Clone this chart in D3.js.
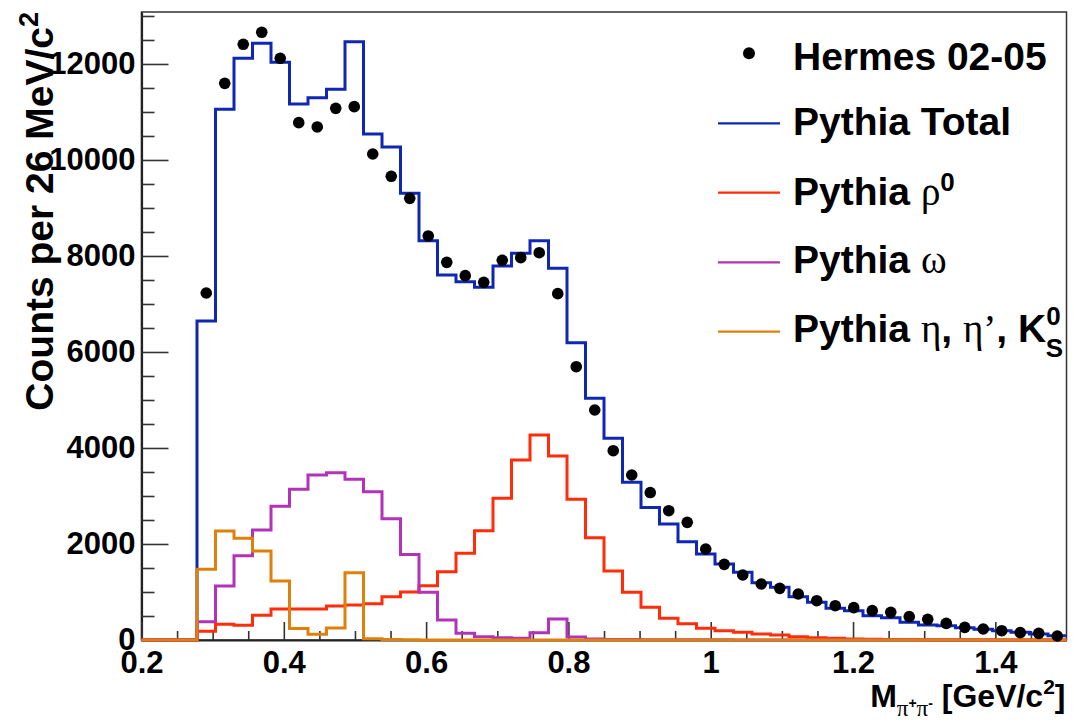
<!DOCTYPE html>
<html>
<head>
<meta charset="utf-8">
<script src="https://cdn.jsdelivr.net/npm/d3@7"></script>
<style>
  body { margin: 0; background: #fff; }
  svg { display: block; }
</style>
</head>
<body>
<svg id="chart" width="1074" height="724"></svg>
<script>
// Invariant mass histogram binning: 50 bins of 26 MeV from 0.2 to 1.5 GeV
const binLow = 0.2;
const binWidth = 0.026;
const binCount = 50;

// Measured counts (null where no point is drawn)
const hermes = [null, null, null, 7229, 11597, 12410, 12660, 12118, 10778, 10688,
  11076, 11111, 10125, 9660, 9201, 8417, 7868, 7590, 7451, 7910,
  7965, 8069, 7215, 5694, 4792, 3944, 3437, 3072, 2694, 2451,
  1896, 1576, 1354, 1167, 1076, 958, 819, 715, 674, 611,
  576, 486, 431, 347, 264, 229, 194, 153, 139, 83];

// Monte Carlo totals and components
const pythiaTotal = [0, 0, 0, 6646, 11056, 12118, 12431, 12035, 11167, 11299,
  11472, 12465, 10542, 10271, 9306, 8319, 7604, 7465, 7347, 7792,
  8056, 8319, 7743, 6194, 5035, 4201, 3285, 2760, 2417, 2049,
  1792, 1583, 1410, 1194, 1097, 903, 785, 660, 611, 507,
  465, 368, 312, 299, 257, 222, 194, 160, 125, 90];

const pythiaRho = [0, 0, 0, 180, 330, 305, 515, 645, 645, 645,
  708, 729, 757, 903, 1000, 1132, 1424, 1806, 2278, 2951,
  3750, 4271, 3833, 2931, 2132, 1437, 993, 681, 451, 340,
  243, 194, 160, 125, 104, 69, 49, 35, 20, 15,
  10, 8, 5, 4, 3, 3, 2, 2, 1, 1];

const pythiaOmega = [0, 0, 0, 382, 1125, 1757, 2292, 2785, 3139, 3437,
  3486, 3347, 3090, 2525, 1780, 993, 417, 139, 69, 49,
  35, 153, 438, 60, 22, 12, 8, 6, 5, 4,
  3, 3, 2, 2, 2, 1, 1, 1, 1, 0,
  0, 0, 0, 0, 0, 0, 0, 0, 0, 0];

const pythiaEta = [0, 0, 0, 1472, 2271, 2118, 1854, 1229, 240, 120,
  250, 1403, 28, 12, 4, 2, 1, 0, 0, 0,
  0, 0, 0, 0, 0, 0, 0, 0, 0, 0,
  0, 0, 0, 0, 0, 0, 0, 0, 0, 0,
  0, 0, 0, 0, 0, 0, 0, 0, 0, 0];

// Axis ticks
const xTickValues = [0.2, 0.4, 0.6, 0.8, 1.0, 1.2, 1.4];
const xTickLabels = ["0.2", "0.4", "0.6", "0.8", "1", "1.2", "1.4"];
const xMinorValues = [0.25, 0.3, 0.35, 0.45, 0.5, 0.55, 0.65, 0.7, 0.75, 0.85, 0.9, 0.95,
  1.05, 1.1, 1.15, 1.25, 1.3, 1.35, 1.45];
const yTickValues = [0, 2000, 4000, 6000, 8000, 10000, 12000];
const yTickLabels = ["0", "2000", "4000", "6000", "8000", "10000", "12000"];
const yMinorValues = [500, 1000, 1500, 2500, 3000, 3500, 4500, 5000, 5500, 6500, 7000, 7500,
  8500, 9000, 9500, 10500, 11000, 11500, 12500, 13000];

const colors = {
  total: "#0f27b3",
  rho: "#ff2d0a",
  omega: "#b232b8",
  eta: "#de800a",
  data: "#000000"
};

(function draw() {
  const svg = d3.select("#chart");
  const sans = "'Liberation Sans', Arial, Helvetica, sans-serif";
  const serif = "'Liberation Serif', 'Times New Roman', serif";

  const plotLeft = 141.5, plotRight = 1066.5, plotTop = 12, plotBottom = 640;
  const x = d3.scaleLinear().domain([0.2, 1.5]).range([plotLeft, plotRight]);
  const y = d3.scaleLinear().domain([0, 13083]).range([plotBottom, plotTop]);

  const edges = d3.range(binCount).map(i => binLow + i * binWidth);
  const centers = edges.map(e => e + binWidth / 2);

  // Frame
  svg.append("rect")
    .attr("x", plotLeft).attr("y", plotTop)
    .attr("width", plotRight - plotLeft).attr("height", plotBottom - plotTop)
    .attr("fill", "none").attr("stroke", "#333").attr("stroke-width", 1.5);

  // Y axis: major ticks with labels, minor ticks
  svg.append("g").attr("transform", `translate(${plotLeft},0)`)
    .call(d3.axisLeft(y).tickValues(yTickValues).tickSizeInner(-27).tickSizeOuter(0)
      .tickPadding(6).tickFormat((d, i) => yTickLabels[i]));
  svg.append("g").attr("transform", `translate(${plotLeft},0)`)
    .call(d3.axisLeft(y).tickValues(yMinorValues).tickSizeInner(-13).tickSizeOuter(0)
      .tickFormat(""))
    .select(".domain").remove();

  // X axis
  svg.append("g").attr("transform", `translate(0,${plotBottom})`)
    .call(d3.axisBottom(x).tickValues(xTickValues).tickSizeInner(-18).tickSizeOuter(0)
      .tickPadding(11).tickFormat((d, i) => xTickLabels[i]));
  svg.append("g").attr("transform", `translate(0,${plotBottom})`)
    .call(d3.axisBottom(x).tickValues(xMinorValues).tickSizeInner(-9).tickSizeOuter(0)
      .tickFormat(""))
    .select(".domain").remove();

  svg.selectAll(".tick line").attr("stroke", "#333").attr("stroke-width", 1.6);
  svg.selectAll(".domain").attr("stroke", "#222").attr("stroke-width", 2.2);
  svg.selectAll(".tick text")
    .attr("font-family", sans).attr("font-weight", "bold")
    .attr("font-size", 31).attr("fill", "#000");

  // Histogram outlines
  const stepLine = d3.line()
    .x(d => x(d[0])).y(d => y(d[1]))
    .curve(d3.curveStepAfter);

  function histPoints(vals) {
    const pts = vals.map((v, i) => [edges[i], v]);
    pts.push([binLow + binCount * binWidth, vals[vals.length - 1]]);
    return pts;
  }

  const series = [
    { vals: pythiaTotal, color: colors.total },
    { vals: pythiaRho, color: colors.rho },
    { vals: pythiaOmega, color: colors.omega },
    { vals: pythiaEta, color: colors.eta }
  ];

  svg.append("g").selectAll("path").data(series).join("path")
    .attr("d", s => stepLine(histPoints(s.vals)))
    .attr("fill", "none")
    .attr("stroke", s => s.color)
    .attr("stroke-width", 3)
    .attr("stroke-linejoin", "miter");

  // Data points
  svg.append("g").selectAll("circle")
    .data(hermes.map((v, i) => ({ c: centers[i], v })).filter(d => d.v !== null))
    .join("circle")
    .attr("cx", d => x(d.c)).attr("cy", d => y(d.v))
    .attr("r", 5.8).attr("fill", colors.data);

  // Axis titles
  const yTitle = svg.append("text")
    .attr("transform", `translate(53,${plotTop}) rotate(-90)`)
    .attr("text-anchor", "end")
    .attr("font-family", sans).attr("font-weight", "bold").attr("font-size", 39);
  yTitle.append("tspan").text("Counts per 26 MeV/c");
  yTitle.append("tspan").attr("font-size", 27).attr("dy", -15).text("2");

  const xTitle = svg.append("text")
    .attr("x", plotRight - 1).attr("y", 707)
    .attr("text-anchor", "end")
    .attr("font-family", sans).attr("font-weight", "bold").attr("font-size", 32);
  xTitle.append("tspan").text("M");
  xTitle.append("tspan").attr("font-family", serif).attr("font-weight", "normal")
    .attr("font-size", 23).attr("dy", 9).text("π");
  xTitle.append("tspan").attr("font-size", 14).attr("dy", -8).text("+");
  xTitle.append("tspan").attr("font-family", serif).attr("font-weight", "normal")
    .attr("font-size", 23).attr("dy", 8).text("π");
  xTitle.append("tspan").attr("font-size", 14).attr("dy", -8).text("-");
  xTitle.append("tspan").attr("dy", -1).text(" [GeV/c");
  xTitle.append("tspan").attr("font-size", 21).attr("dy", -13).text("2");
  xTitle.append("tspan").attr("dy", 13).text("]");

  // Legend
  const legendX = 793;
  const legend = svg.append("g")
    .attr("font-family", sans).attr("font-weight", "bold").attr("font-size", 39);

  legend.append("circle").attr("cx", 749).attr("cy", 53.3).attr("r", 6).attr("fill", colors.data);
  legend.append("text").attr("x", legendX).attr("y", 69.5).text("Hermes 02-05");

  const lineEntries = [
    { color: colors.total, lineY: 123.3, base: 135 },
    { color: colors.rho, lineY: 192.7, base: 205 },
    { color: colors.omega, lineY: 262.3, base: 273 },
    { color: colors.eta, lineY: 331.7, base: 342 }
  ];
  legend.selectAll("line.entry").data(lineEntries).join("line")
    .attr("class", "entry")
    .attr("x1", 718).attr("x2", 780)
    .attr("y1", d => d.lineY).attr("y2", d => d.lineY)
    .attr("stroke", d => d.color).attr("stroke-width", 2.2);

  const t1 = legend.append("text").attr("x", legendX).attr("y", lineEntries[0].base);
  t1.append("tspan").text("Pythia Total");

  const t2 = legend.append("text").attr("x", legendX).attr("y", lineEntries[1].base);
  t2.append("tspan").text("Pythia ");
  t2.append("tspan").attr("font-family", serif).attr("font-weight", "normal").text("ρ");
  t2.append("tspan").attr("font-size", 26).attr("dy", -14).text("0");

  const t3 = legend.append("text").attr("x", legendX).attr("y", lineEntries[2].base);
  t3.append("tspan").text("Pythia ");
  t3.append("tspan").attr("font-family", serif).attr("font-weight", "normal").text("ω");

  const t4 = legend.append("text").attr("x", legendX).attr("y", lineEntries[3].base);
  t4.append("tspan").text("Pythia ");
  t4.append("tspan").attr("font-family", serif).attr("font-weight", "normal").text("η");
  t4.append("tspan").text(", ");
  t4.append("tspan").attr("font-family", serif).attr("font-weight", "normal").text("η’");
  t4.append("tspan").text(", K");
  t4.append("tspan").attr("font-size", 26).attr("dy", -17).text("0");
  t4.append("tspan").attr("font-size", 26).attr("dx", -15).attr("dy", 32).text("S");
})();
</script>
</body>
</html>
